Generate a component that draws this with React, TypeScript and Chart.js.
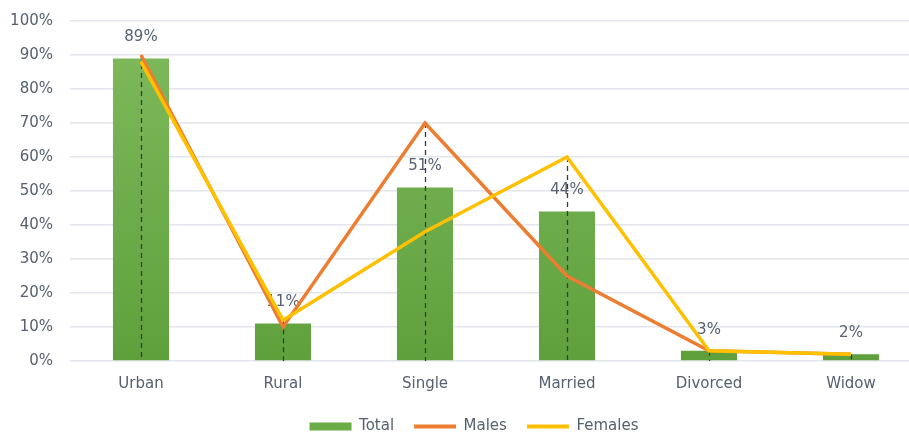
import React, { useEffect, useRef } from "react";
import { Chart, registerables } from "chart.js";

Chart.register(...registerables);

const categories = ["Urban", "Rural", "Single", "Married", "Divorced", "Widow"];
const totalValues = [89, 11, 51, 44, 3, 2];
const malesValues = [90, 10, 70, 25, 3, 2];
const femalesValues = [88, 12, 38, 60, 3, 2];
const yTicks = [0, 10, 20, 30, 40, 50, 60, 70, 80, 90, 100];

const FONT = "'DejaVu Sans', sans-serif";
const TEXT = "#56606e";
const GREEN = "#6aac45";
const ORANGE = "#ED7D31";
const YELLOW = "#FFC000";

const overlayPlugin = {
  id: "overlay",
  afterLayout(chart: any) {
    const lg = chart.legend;
    if (lg) {
      lg.left += 9;
      lg.right += 9;
    }
  },
  afterDatasetDraw(chart: any, args: any) {
    if (args.index !== 0) return;
    const { ctx, scales } = chart;
    const x = scales.x;
    const y = scales.y;
    ctx.save();
    // data labels
    ctx.fillStyle = TEXT;
    ctx.font = `15px ${FONT}`;
    ctx.textAlign = "center";
    ctx.textBaseline = "middle";
    totalValues.forEach((v, i) => {
      ctx.fillText(`${v}%`, x.getPixelForValue(i), y.getPixelForValue(v) - 21);
    });
    // drop lines
    ctx.strokeStyle = "#3a3a3a";
    ctx.lineWidth = 1.3;
    ctx.setLineDash([5, 4]);
    categories.forEach((_, i) => {
      const top = Math.max(malesValues[i], femalesValues[i], totalValues[i]);
      const px = Math.round(x.getPixelForValue(i)) + 0.5;
      ctx.beginPath();
      ctx.moveTo(px, y.getPixelForValue(top));
      ctx.lineTo(px, y.getPixelForValue(0));
      ctx.stroke();
    });
    ctx.restore();
  },
};

export default function App() {
  const ref = useRef<HTMLCanvasElement>(null);
  useEffect(() => {
    const canvas = ref.current!;
    const chart = new Chart(canvas, {
      type: "bar",
      data: {
        labels: categories,
        datasets: [
          {
            type: "bar",
            label: "Total",
            data: totalValues,
            order: 3,
            backgroundColor: (c: any) => {
              const area = c.chart.chartArea;
              if (!area) return GREEN;
              const g = c.chart.ctx.createLinearGradient(0, area.top, 0, area.bottom);
              g.addColorStop(0, "#80bb5d");
              g.addColorStop(1, "#5fa03c");
              return g;
            },
            borderWidth: 0,
            categoryPercentage: 1,
            barPercentage: 0.395,
          },
          {
            type: "line",
            label: "Males",
            data: malesValues,
            order: 2,
            borderColor: ORANGE,
            backgroundColor: ORANGE,
            borderWidth: 3.5,
            pointRadius: 0,
            tension: 0,
          },
          {
            type: "line",
            label: "Females",
            data: femalesValues,
            order: 1,
            borderColor: YELLOW,
            backgroundColor: YELLOW,
            borderWidth: 3.5,
            pointRadius: 0,
            tension: 0,
          },
        ] as any,
      },
      options: {
        responsive: false,
        animation: false,
        devicePixelRatio: 1,
        layout: { padding: { left: 8, top: 21, right: 0, bottom: -7 } },
        scales: {
          x: {
            grid: { display: false, drawTicks: false },
            border: { display: false },
            afterFit: (s: any) => {
              s.height -= 8;
            },
            ticks: { color: TEXT, font: { family: FONT, size: 15 }, padding: 14 },
          },
          y: {
            min: 0,
            max: 100,
            afterFit: (s: any) => {
              s.width = 62;
              s.paddingTop = 0;
              s.paddingBottom = 0;
            },
            afterBuildTicks: (s: any) => {
              s.ticks = yTicks.map((v) => ({ value: v }));
            },
            grid: { color: "#e2e6ec", lineWidth: 1.5, drawTicks: false },
            border: { display: false },
            ticks: {
              color: TEXT,
              font: { family: FONT, size: 15 },
              padding: 17,
              callback: (v: any) => `${v}%`,
            },
          },
        },
        plugins: {
          tooltip: { enabled: false },
          legend: {
            position: "bottom",
            labels: {
              color: TEXT,
              font: { family: FONT, size: 15 },
              usePointStyle: true,
              pointStyleWidth: 42,
              boxHeight: 8,
              padding: 20,
              sort: (a: any, b: any) => a.datasetIndex - b.datasetIndex,
              generateLabels: (ch: any) => {
                const items = Chart.defaults.plugins.legend.labels.generateLabels(ch);
                return items.map((it: any) => {
                  const i = it.datasetIndex;
                  if (i === 0) {
                    return { ...it, pointStyle: "rect", fillStyle: GREEN, strokeStyle: GREEN, lineWidth: 0 };
                  }
                  const col = i === 1 ? ORANGE : YELLOW;
                  return { ...it, pointStyle: "line", strokeStyle: col, fillStyle: col, lineWidth: 4 };
                });
              },
            },
          },
        },
      } as any,
      plugins: [overlayPlugin],
    });
    return () => chart.destroy();
  }, []);
  return (
    <div style={{ position: "fixed", left: 0, top: 0, width: 909, height: 437, overflow: "hidden", background: "#fff" }}>
      <canvas ref={ref} width={922} height={437} style={{ width: 922, height: 437 }} />
    </div>
  );
}
